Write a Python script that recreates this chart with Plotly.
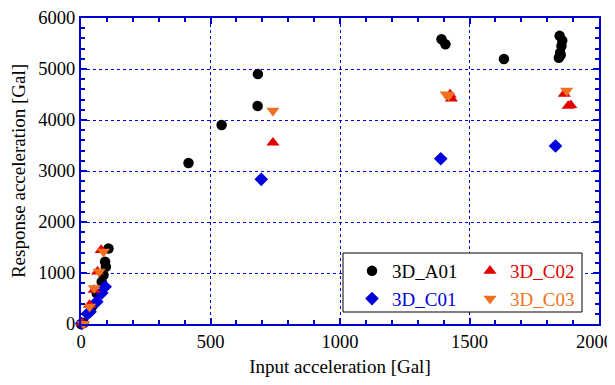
import plotly.graph_objects as go

# 3D_A01 (black circles)
a01_x = [0, 10, 42, 61, 80, 87, 96, 93, 106, 415, 543, 682, 683, 1392, 1407, 1633, 1848, 1858, 1855, 1850, 1845, 1852]
a01_y = [0, 20, 340, 600, 830, 960, 1124, 1220, 1480, 3157, 3902, 4275, 4900, 5582, 5484, 5196, 5650, 5560, 5450, 5320, 5220, 5270]

# 3D_C01 (blue diamonds)
c01_x = [3, 25, 35, 61, 80, 93, 696, 1389, 1832]
c01_y = [10, 200, 241, 437, 608, 730, 2837, 3240, 3490]

# 3D_C02 (red up-triangles)
c02_x = [3, 33, 51, 64, 78, 741, 1425, 1430, 1866, 1881, 1891]
c02_y = [20, 373, 667, 1025, 1450, 3555, 4500, 4420, 4510, 4275, 4290]

# 3D_C03 (orange down-triangles)
c03_x = [10, 33, 51, 70, 87, 741, 1410, 1420, 1875]
c03_y = [0, 340, 705, 1025, 1418, 4183, 4500, 4480, 4575]

x_tickvals = [0, 500, 1000, 1500, 2000]
# last label padded with no-break spaces so it stays inside the window
x_ticktext = ["0", "500", "1000", "1500", "2000\u00a0\u00a0"]

x_title = "Input acceleration [Gal]"
y_title = "Response acceleration [Gal]"

BLUE = "#0000cc"
FONT = "Liberation Serif"
FS = 19
TFS = 18.5

series = [
    ("3D_A01", a01_x, a01_y, "circle", "#000000", 10.5, "legend"),
    ("3D_C01", c01_x, c01_y, "diamond", "#0000dd", 10.5, "legend"),
    ("3D_C02", c02_x, c02_y, "triangle-up", "#e00000", 11.5, "legend2"),
    ("3D_C03", c03_x, c03_y, "triangle-down", "#f07020", 11.5, "legend2"),
]

fig = go.Figure()
for name, xs, ys, sym, col, size, leg in series:
    fig.add_trace(go.Scatter(
        x=xs, y=ys, mode="markers",
        name=f"<span style='color:{col}'>{name}</span>",
        marker=dict(symbol=sym, color=col, size=size, line=dict(width=0)),
        cliponaxis=False, legend=leg,
    ))

axis_common = dict(
    showline=True, linecolor=BLUE, linewidth=2, mirror="allticks",
    ticks="inside", ticklen=6, tickwidth=2, tickcolor=BLUE,
    showgrid=True, gridcolor=BLUE, griddash="dot", gridwidth=1,
    zeroline=False, automargin=False, ticklabeloverflow="allow",
    tickfont=dict(family=FONT, size=TFS, color="#000000"),
    title_font=dict(family=FONT, size=FS, color="#000000"),
)

fig.update_xaxes(
    range=[0, 2000], tickmode="array", tickvals=x_tickvals, ticktext=x_ticktext,
    title_text=x_title, title_standoff=8,
    minor=dict(tickmode="linear", tick0=0, dtick=100, ticks="inside", ticklen=4,
               tickcolor=BLUE, tickwidth=2, showgrid=False),
    **axis_common,
)
fig.update_yaxes(
    range=[0, 6000], dtick=1000, title_text=y_title, title_standoff=16,
    minor=dict(dtick=200, ticks="inside", ticklen=4, tickcolor=BLUE, tickwidth=2, showgrid=False),
    **axis_common,
)

# the page body adds an 8px offset, so the figure is 8px smaller
W, H = 607, 377
ml, mr, mt, mb = 73, 16, 10, 61
pw, ph = W - ml - mr, H - mt - mb
OFF = 8

def px2paper_x(px):
    return (px - OFF - ml) / pw

def px2paper_y(py):
    return (H - mb - (py - OFF)) / ph

leg_common = dict(
    orientation="v", xanchor="left", yanchor="top",
    bgcolor="rgba(0,0,0,0)", borderwidth=0,
    font=dict(family=FONT, size=FS), tracegroupgap=0,
)

fig.update_layout(
    width=W, height=H,
    margin=dict(l=ml, r=mr, t=mt, b=mb, autoexpand=False),
    paper_bgcolor="white", plot_bgcolor="white",
    font=dict(family=FONT, size=FS, color="#000000"),
    legend=dict(x=px2paper_x(352), y=px2paper_y(252), **leg_common),
    legend2=dict(x=px2paper_x(470), y=px2paper_y(252), **leg_common),
    showlegend=True,
    shapes=[dict(
        type="rect", xref="paper", yref="paper",
        x0=px2paper_x(343), x1=px2paper_x(582),
        y0=px2paper_y(312), y1=px2paper_y(253),
        line=dict(color="#000000", width=1), fillcolor="white", layer="above",
    )],
)

fig.write_html("out.html")
